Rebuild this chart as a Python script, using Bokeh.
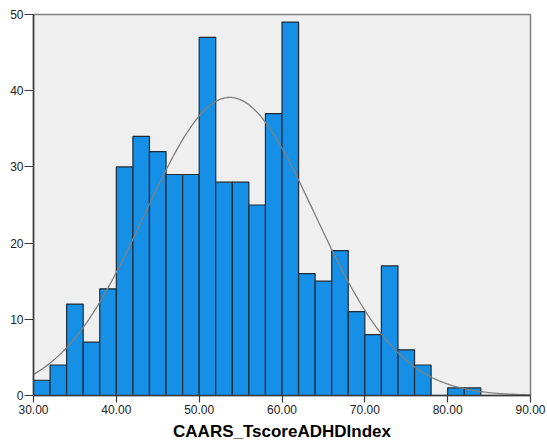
import numpy as np
from bokeh.plotting import figure
from bokeh.models import FixedTicker, CustomJSTickFormatter, ColumnDataSource
from bokeh.embed import file_html
from bokeh.resources import INLINE

# Histogram bins (width 2) and counts
bin_left = [30, 32, 34, 36, 38, 40, 42, 44, 46, 48, 50, 52, 54, 56, 58, 60,
            62, 64, 66, 68, 70, 72, 74, 76, 78, 80, 82]
bin_right = [32, 34, 36, 38, 40, 42, 44, 46, 48, 50, 52, 54, 56, 58, 60, 62,
             64, 66, 68, 70, 72, 74, 76, 78, 80, 82, 84]
counts = [2, 4, 12, 7, 14, 30, 34, 32, 29, 29, 47, 28, 28, 25, 37, 49,
          16, 15, 19, 11, 8, 17, 6, 4, 0, 1, 1]

x_ticks = [30, 40, 50, 60, 70, 80, 90]
y_ticks = [0, 10, 20, 30, 40, 50]

# Normal curve fit parameters
fit_mean = 53.7
fit_sd = 10.3
bin_width = 2.0

p = figure(width=547, height=443, output_backend="svg", toolbar_location=None,
           x_range=(30, 90), y_range=(0, 50))
p.min_border_left = 33
p.min_border_right = 17
p.min_border_top = 14
p.min_border_bottom = 48
p.background_fill_color = "#EFEFEF"
p.border_fill_color = "white"
p.outline_line_color = "#7F7F7F"
p.outline_line_width = 1.5
p.xgrid.visible = False
p.ygrid.visible = False

src = ColumnDataSource(dict(left=bin_left, right=bin_right, top=counts,
                            bottom=[0] * len(counts)))
p.quad(left="left", right="right", top="top", bottom="bottom", source=src,
       fill_color="#1590E6", line_color="#1F2A33", line_width=1.2)

n_total = sum(counts)
xs = np.linspace(30, 90, 300)
ys = n_total * bin_width / (fit_sd * np.sqrt(2 * np.pi)) * np.exp(-0.5 * ((xs - fit_mean) / fit_sd) ** 2)
p.line(xs, ys, line_color="#7F7F7F", line_width=1.3)

fmt_font = "Liberation Sans"
p.xaxis.ticker = FixedTicker(ticks=x_ticks)
p.yaxis.ticker = FixedTicker(ticks=y_ticks)
p.xaxis.formatter = CustomJSTickFormatter(code="return tick.toFixed(2);")
p.xaxis.axis_label = "CAARS_TscoreADHDIndex"
p.xaxis.axis_label_text_font = fmt_font
p.xaxis.axis_label_text_font_style = "bold"
p.xaxis.axis_label_text_font_size = "17px"
p.xaxis.axis_label_text_color = "#000000"
p.xaxis.axis_label_standoff = 5
for ax in (p.xaxis, p.yaxis):
    ax.major_label_text_font = fmt_font
    ax.major_label_text_font_size = "12px"
    ax.major_label_text_color = "#222222"
    ax.axis_line_color = "#3A3A3A"
    ax.axis_line_width = 1.5
    ax.major_tick_line_color = "#3A3A3A"
    ax.major_tick_line_width = 1.2
    ax.major_tick_in = 0
    ax.minor_tick_line_color = None
p.xaxis.major_tick_out = 7
p.xaxis.major_label_standoff = 2
p.yaxis.major_tick_out = 9
p.yaxis.major_label_standoff = 1

open("out.html", "w").write(file_html(p, INLINE))
